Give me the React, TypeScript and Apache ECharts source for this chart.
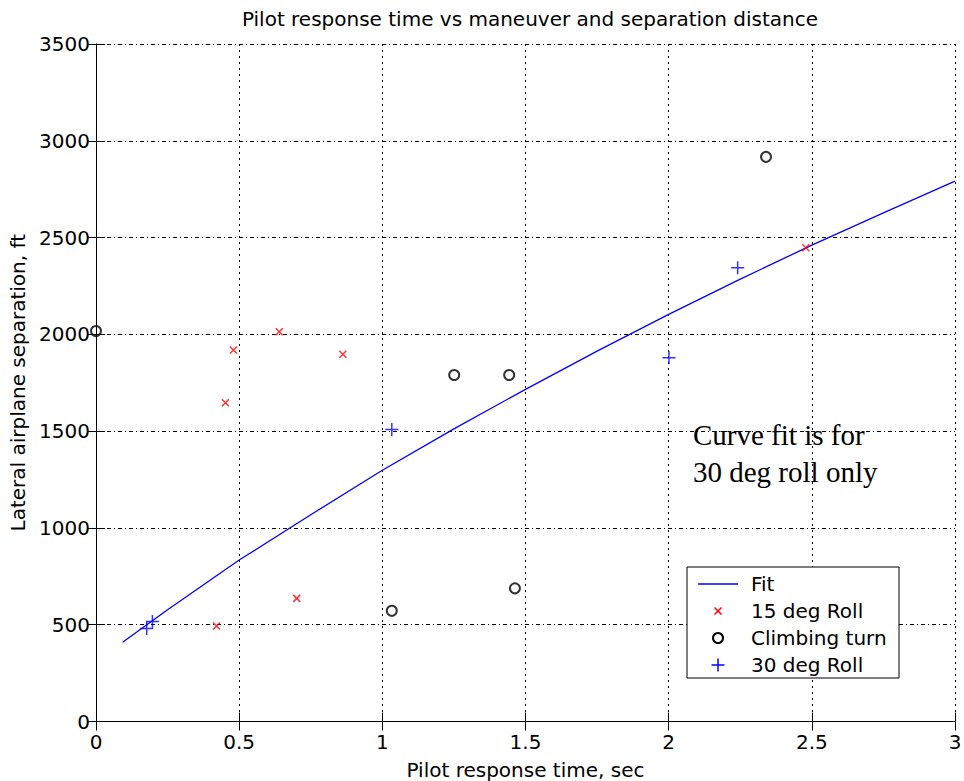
import React, { useEffect, useRef } from "react";
import * as echarts from "echarts";

const titleText = "Pilot response time vs maneuver and separation distance";
const xName = "Pilot response time, sec";
const yName = "Lateral airplane separation, ft";
const legendNames = ["Fit", "15 deg Roll", "Climbing turn", "30 deg Roll"];
const noteLines = ["Curve fit is for", "30 deg roll only"];

const fitX = [0.093, 0.25, 0.5, 0.75, 1, 1.25, 1.5, 1.75, 2, 2.25, 2.5, 2.75, 3];
const fitY = [409, 577, 834, 1068, 1298, 1512, 1716, 1913, 2103, 2285, 2461, 2628, 2792];

const roll15X = [0.421, 0.452, 0.48, 0.64, 0.701, 0.862, 2.479];
const roll15Y = [493, 1647, 1919, 2013, 636, 1897, 2447];

const climbX = [0, 1.033, 1.251, 1.443, 1.463, 2.34];
const climbY = [2017, 572, 1790, 1790, 688, 2917];

const roll30X = [0.177, 0.197, 1.033, 2.001, 2.241];
const roll30Y = [481, 516, 1509, 1879, 2344];

const FONT = "'DejaVu Sans', 'Liberation Sans', Arial, sans-serif";
const SERIF = "'Liberation Serif', 'Times New Roman', serif";

const zip = (xs: number[], ys: number[]) => xs.map((x, i) => [x, ys[i]]);

const X_PATH = "path://M0,0L10,10M10,0L0,10";
const PLUS_PATH = "path://M5,0L5,10M0,5L10,5";

export default function App() {
  const ref = useRef<HTMLDivElement>(null);
  useEffect(() => {
    if (!ref.current) return;
    const chart = echarts.init(ref.current, null, { renderer: "svg" });
    const gridH = { type: [4, 3, 1, 3] as any, color: "#000", width: 1 };
    const gridV = { type: [2, 4] as any, color: "#000", width: 1 };
    const lx = 687, ly = 567, lw = 212, lh = 111;
    const rows = [584, 611, 638, 665];
    const mx = 718;
    chart.setOption({
      animation: false,
      backgroundColor: "#fff",
      title: {
        text: titleText,
        left: 525,
        top: 4,
        textAlign: "center",
        textStyle: { fontFamily: FONT, fontSize: 20, fontWeight: "normal", color: "#000" },
      },
      grid: { left: 96, right: 9, top: 44, bottom: 59.5, containLabel: false, outerBoundsMode: "none" },
      xAxis: [
        {
          type: "value",
          min: 0,
          max: 3,
          interval: 0.5,
          name: xName,
          nameLocation: "middle",
          nameGap: 38,
          nameTextStyle: { fontFamily: FONT, fontSize: 20, color: "#000" },
          axisLine: { lineStyle: { color: "#000", width: 1 } },
          axisTick: { inside: true, length: 9, lineStyle: { color: "#000" } },
          axisLabel: { fontFamily: FONT, fontSize: 20, color: "#000", margin: 10, formatter: (v: number) => String(v) },
          splitLine: { show: true, lineStyle: gridV },
        },
        {
          type: "value",
          position: "top",
          min: 0,
          max: 3,
          interval: 0.5,
          axisLine: { show: true, lineStyle: { color: "#000", width: 1 } },
          axisTick: { show: true, inside: true, length: 9, lineStyle: { color: "#000" } },
          axisLabel: { show: false },
          splitLine: { show: false },
        },
      ],
      yAxis: [
        {
          type: "value",
          min: 0,
          max: 3500,
          interval: 500,
          name: yName,
          nameLocation: "middle",
          nameGap: 62,
          nameTextStyle: { fontFamily: FONT, fontSize: 20, color: "#000" },
          axisLine: { show: true, lineStyle: { color: "#000", width: 1 } },
          axisTick: { show: true, inside: true, length: 9, lineStyle: { color: "#000" } },
          axisLabel: { fontFamily: FONT, fontSize: 20, color: "#000", margin: 6, formatter: (v: number) => String(v) },
          splitLine: { show: true, lineStyle: gridH },
        },
        {
          type: "value",
          position: "right",
          min: 0,
          max: 3500,
          interval: 500,
          axisLine: { show: true, lineStyle: { color: "#000", width: 1 } },
          axisTick: { show: true, inside: true, length: 9, lineStyle: { color: "#000" } },
          axisLabel: { show: false },
          splitLine: { show: false },
        },
      ],
      series: [
        {
          name: legendNames[0],
          type: "line",
          data: zip(fitX, fitY),
          showSymbol: false,
          symbol: "none",
          lineStyle: { color: "#0000ff", width: 1.3 },
          z: 3,
        },
        {
          name: legendNames[1],
          type: "scatter",
          data: zip(roll15X, roll15Y),
          symbol: X_PATH,
          symbolSize: 7,
          itemStyle: { color: "rgba(0,0,0,0)", borderColor: "#ff0000", borderWidth: 1.5 },
          z: 4,
        },
        {
          name: legendNames[2],
          type: "scatter",
          data: zip(climbX, climbY),
          symbol: "circle",
          symbolSize: 10,
          itemStyle: { color: "rgba(0,0,0,0)", borderColor: "#000", borderWidth: 2 },
          z: 4,
        },
        {
          name: legendNames[3],
          type: "scatter",
          data: zip(roll30X, roll30Y),
          symbol: PLUS_PATH,
          symbolSize: 13,
          itemStyle: { color: "rgba(0,0,0,0)", borderColor: "#0000ff", borderWidth: 1.5 },
          z: 4,
        },
      ],
      graphic: [
        {
          type: "text",
          left: 693,
          top: 420,
          z: 50,
          style: { text: noteLines[0], font: `29px ${SERIF}`, fill: "#000" },
        },
        {
          type: "text",
          left: 693,
          top: 457,
          z: 50,
          style: { text: noteLines[1], font: `29px ${SERIF}`, fill: "#000" },
        },
        {
          type: "group",
          z: 100,
          children: [
            {
              type: "rect",
              z: 100,
              shape: { x: lx, y: ly, width: lw, height: lh },
              style: { fill: "#fff", stroke: "#000", lineWidth: 1 },
            },
            {
              type: "line",
              z: 101,
              shape: { x1: 698, y1: rows[0], x2: 738, y2: rows[0] },
              style: { stroke: "#0000ff", lineWidth: 1.3 },
            },
            {
              type: "line",
              z: 101,
              shape: { x1: mx - 3.5, y1: rows[1] - 3.5, x2: mx + 3.5, y2: rows[1] + 3.5 },
              style: { stroke: "#ff0000", lineWidth: 1.5 },
            },
            {
              type: "line",
              z: 101,
              shape: { x1: mx + 3.5, y1: rows[1] - 3.5, x2: mx - 3.5, y2: rows[1] + 3.5 },
              style: { stroke: "#ff0000", lineWidth: 1.5 },
            },
            {
              type: "circle",
              z: 101,
              shape: { cx: mx, cy: rows[2], r: 5 },
              style: { fill: "none", stroke: "#000", lineWidth: 2 },
            },
            {
              type: "line",
              z: 101,
              shape: { x1: mx - 6.5, y1: rows[3], x2: mx + 6.5, y2: rows[3] },
              style: { stroke: "#0000ff", lineWidth: 1.5 },
            },
            {
              type: "line",
              z: 101,
              shape: { x1: mx, y1: rows[3] - 6.5, x2: mx, y2: rows[3] + 6.5 },
              style: { stroke: "#0000ff", lineWidth: 1.5 },
            },
            ...legendNames.map((n, i) => ({
              type: "text",
              z: 101,
              x: 751,
              y: rows[i],
              style: {
                text: n,
                font: `20px ${FONT}`,
                fill: "#000",
                textVerticalAlign: "middle",
                verticalAlign: "middle",
              },
            })),
          ],
        },
      ],
    });
    return () => chart.dispose();
  }, []);
  return (
    <div
      ref={ref}
      style={{ position: "fixed", left: 0, top: 0, width: 964, height: 781, background: "#fff" }}
    />
  );
}
